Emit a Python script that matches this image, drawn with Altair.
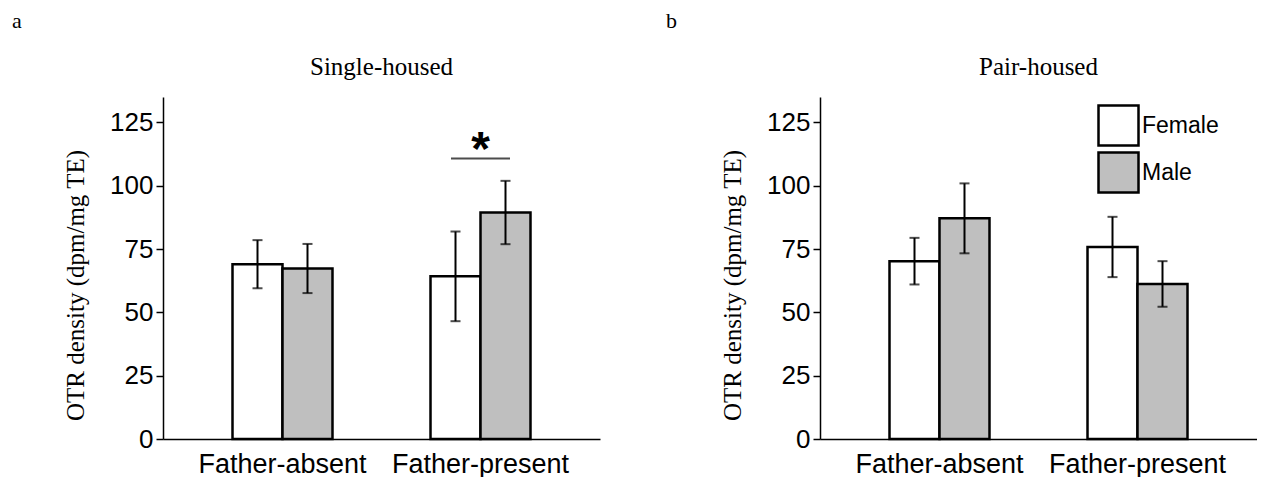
import altair as alt
import pandas as pd

SANS = "Liberation Sans"
SERIF = "Liberation Serif"

conditions = ["Father-absent", "Father-present"]
sexes = ["Female", "Male"]
panel_titles = ["Single-housed", "Pair-housed"]
panel_letters = ["a", "b"]
# order: FA-Female, FA-Male, FP-Female, FP-Male
single_means = [69.0, 67.3, 64.2, 89.4]
single_sem = [9.5, 9.7, 17.7, 12.5]
pair_means = [70.2, 87.1, 75.8, 61.2]
pair_sem = [9.2, 13.8, 11.9, 9.0]
y_ticks = [0, 25, 50, 75, 100, 125]
y_title = "OTR density (dpm/mg TE)"
sig_condition = ["Father-present"]
sig_y = [110.7]
sig_label = ["*"]
fill_colors = ["white", "#bfbfbf"]

W, H = 437, 342


def panel(means, sems, title, letter, letter_x, legend, sig):
    rows = []
    i = 0
    for c in conditions:
        for s in sexes:
            rows.append({"condition": c, "sex": s, "mean": means[i],
                         "lo": means[i] - sems[i], "hi": means[i] + sems[i]})
            i += 1
    df = pd.DataFrame(rows)
    base = alt.Chart(df)
    xs = alt.Scale(paddingInner=0.495, paddingOuter=0.351)
    x = alt.X("condition:N", sort=conditions, scale=xs, title=None)
    xo = alt.XOffset("sex:N", sort=sexes, scale=alt.Scale(paddingInner=0, paddingOuter=0))
    ys = alt.Scale(domain=[0, 135], nice=False)

    bars = base.mark_bar(stroke="black", strokeWidth=2.5).encode(
        x=x, xOffset=xo,
        y=alt.Y("mean:Q", scale=ys, title=y_title, axis=alt.Axis(values=y_ticks)),
        fill=alt.Fill("sex:N", scale=alt.Scale(domain=sexes, range=fill_colors), legend=legend),
    )
    err = base.mark_rule(color="black", strokeWidth=2).encode(
        x=x, xOffset=xo, y=alt.Y("lo:Q", scale=ys, title=y_title), y2="hi:Q"
    )
    cap_lo = base.mark_tick(color="black", thickness=2, size=10).encode(
        x=x, xOffset=xo, y=alt.Y("lo:Q", scale=ys, title=y_title)
    )
    cap_hi = base.mark_tick(color="black", thickness=2, size=10).encode(
        x=x, xOffset=xo, y=alt.Y("hi:Q", scale=ys, title=y_title)
    )
    lab = alt.Chart(pd.DataFrame({"letter": [letter], "title": [title]}))
    letter_t = lab.mark_text(font=SERIF, fontSize=22, align="left", baseline="alphabetic",
                             color="black").encode(
        x=alt.value(letter_x), y=alt.value(-69.5), text="letter:N")
    title_t = lab.mark_text(font=SERIF, fontSize=25, align="center", baseline="alphabetic",
                            color="black").encode(
        x=alt.value(W / 2), y=alt.value(-22), text="title:N")
    layers = [bars, err, cap_lo, cap_hi, letter_t, title_t]
    if sig:
        sdf = pd.DataFrame({"condition": sig_condition, "y": sig_y, "label": sig_label})
        sb = alt.Chart(sdf)
        line = sb.mark_tick(color="black", thickness=2, size=59).encode(
            x=x, y=alt.Y("y:Q", scale=ys, title=y_title))
        star = sb.mark_text(font=SANS, fontSize=48, fontWeight="bold", baseline="alphabetic",
                            dy=6, color="black").encode(
            x=x, y=alt.Y("y:Q", scale=ys, title=y_title), text="label:N")
        layers += [line, star]
    return alt.layer(*layers).properties(width=W, height=H)


left = panel(single_means, single_sem, panel_titles[0], panel_letters[0], -151, None, True)
right = panel(pair_means, pair_sem, panel_titles[1], panel_letters[1], -154,
              alt.Legend(title=None, orient="none", legendX=277, legendY=7,
                         symbolType="square", symbolSize=1600, symbolStrokeColor="black",
                         symbolStrokeWidth=2.5, labelFont=SANS, labelFontSize=23,
                         labelColor="black", labelOffset=2, rowPadding=-9, padding=0),
              False)

chart = (
    alt.hconcat(left, right, spacing=66)
    .resolve_scale(fill="independent")
    .resolve_legend(fill="independent")
    .properties(padding={"left": 4, "top": 1, "right": 0, "bottom": 0}, background="white")
    .configure_view(stroke=None)
    .configure_axis(
        labelFont=SANS, labelColor="black", titleFont=SERIF, titleColor="black",
        titleFontWeight="normal", domainColor="black", domainWidth=1.5,
        tickColor="black", tickWidth=1.5, grid=False,
    )
    .configure_axisX(labelFontSize=27, labelAngle=0, ticks=False, labelPadding=12)
    .configure_axisY(labelFontSize=26, tickSize=7, labelPadding=3, titleFontSize=25,
                     titleX=-88, titleY=188, titleBaseline="middle", titleAlign="center",
                     titleAngle=270)
)

chart.save("out.html", embed_options={"renderer": "svg", "actions": False})
